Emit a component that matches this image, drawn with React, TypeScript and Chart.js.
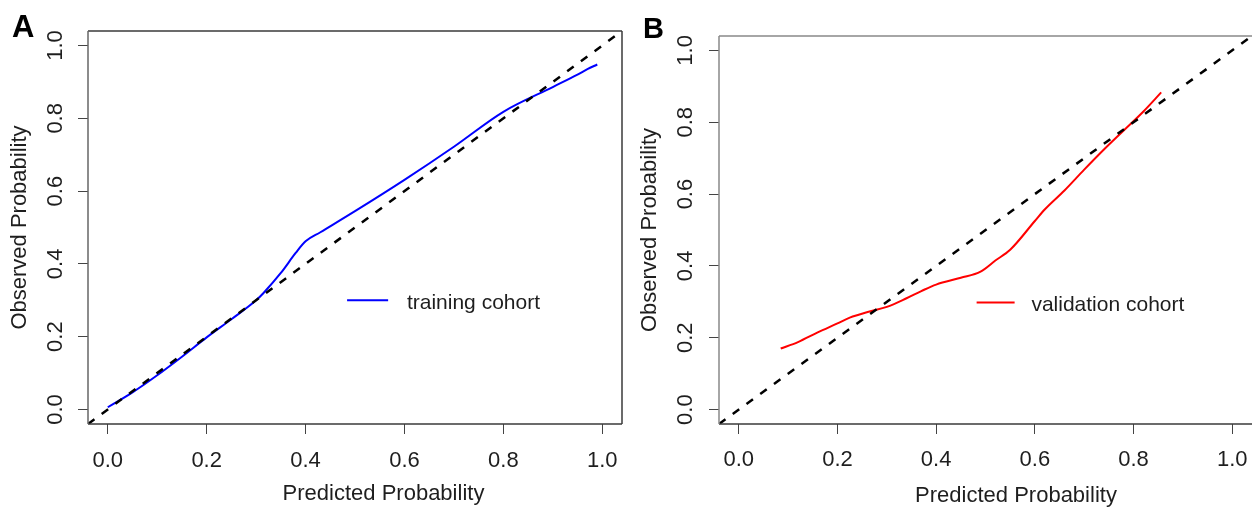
import React, { useEffect, useRef } from 'react';
import { Chart, registerables } from 'chart.js';

Chart.register(...registerables);

// ---------- data ----------
const tickValues = [0, 0.2, 0.4, 0.6, 0.8, 1.0];
const axisMin = -0.04;
const axisMax = 1.04;
const idealLine = [-0.04, 1.04];

const trainingPredicted = [0.0, 0.05, 0.1, 0.15, 0.2, 0.25, 0.3, 0.315, 0.35, 0.38, 0.4, 0.43, 0.5, 0.6, 0.7, 0.8, 0.9, 0.95, 0.97, 0.99];
const trainingObserved = [0.006, 0.047, 0.094, 0.145, 0.198, 0.248, 0.3, 0.32, 0.375, 0.43, 0.462, 0.487, 0.545, 0.631, 0.722, 0.818, 0.886, 0.92, 0.935, 0.948];

const validationPredicted = [0.085, 0.12, 0.16, 0.2, 0.225, 0.265, 0.3, 0.34, 0.37, 0.4, 0.45, 0.49, 0.52, 0.55, 0.6, 0.62, 0.66, 0.7, 0.74, 0.78, 0.82, 0.856];
const validationObserved = [0.17, 0.188, 0.215, 0.24, 0.256, 0.273, 0.286, 0.31, 0.33, 0.348, 0.367, 0.384, 0.415, 0.445, 0.525, 0.557, 0.61, 0.668, 0.724, 0.777, 0.83, 0.883];

const FONT = '"Liberation Sans", Arial, Helvetica, sans-serif';
const TEXT = '#1e1e1e';

type PanelCfg = {
  left: number;
  canvasWidth: number;
  padTop: number;
  padRight: number;
  yAxisWidth: number;
  titleShift: number;
  xTickPad: number;
  yTickPad: number;
  xTitlePad: number;
  pred: number[];
  obs: number[];
  color: string;
  label: string;
  frame: { top: string; left: string; bottom: string; right: string | null };
  legend: { x1: number; x2: number; y: number; tx: number; ty: number };
};

const panelA: PanelCfg = {
  left: 0,
  canvasWidth: 630,
  padTop: 31,
  padRight: 8,
  yAxisWidth: 88,
  titleShift: 28.5,
  xTickPad: 14,
  yTickPad: 7,
  xTitlePad: 1,
  pred: trainingPredicted,
  obs: trainingObserved,
  color: '#0000ff',
  label: 'training cohort',
  frame: { top: '#3a3a3a', left: '#666', bottom: '#3a3a3a', right: '#3a3a3a' },
  legend: { x1: 0.484, x2: 0.567, y: 0.3, tx: 0.605, ty: 0.292 },
};

const panelB: PanelCfg = {
  left: 630,
  canvasWidth: 622,
  padTop: 36,
  padRight: -1,
  yAxisWidth: 89,
  titleShift: 30.5,
  xTickPad: 13,
  yTickPad: 8,
  xTitlePad: -1,
  pred: validationPredicted,
  obs: validationObserved,
  color: '#ff0000',
  label: 'validation cohort',
  frame: { top: '#888', left: '#888', bottom: '#3a3a3a', right: null },
  legend: { x1: 0.482, x2: 0.559, y: 0.298, tx: 0.593, ty: 0.29 },
};

function buildConfig(p: PanelCfg): any {
  const curve = p.pred.map((x, i) => ({ x, y: p.obs[i] }));
  const diag = idealLine.map((v) => ({ x: v, y: v }));

  const framePlugin = {
    id: 'frameBox',
    afterDatasetsDraw(chart: any) {
      const { left, top, right, bottom } = chart.chartArea;
      const ctx = chart.ctx;
      ctx.save();
      ctx.lineWidth = 1.5;
      const side = (c: string | null, x1: number, y1: number, x2: number, y2: number) => {
        if (!c) return;
        ctx.strokeStyle = c;
        ctx.beginPath();
        ctx.moveTo(x1, y1);
        ctx.lineTo(x2, y2);
        ctx.stroke();
      };
      side(p.frame.top, left, top, right, top);
      side(p.frame.bottom, left, bottom, right, bottom);
      side(p.frame.left, left, top, left, bottom);
      side(p.frame.right, right, top, right, bottom);
      ctx.restore();
    },
  };

  const legendPlugin = {
    id: 'insideLegend',
    afterDatasetsDraw(chart: any) {
      const xs = chart.scales.x;
      const ys = chart.scales.y;
      const ctx = chart.ctx;
      ctx.save();
      ctx.strokeStyle = p.color;
      ctx.lineWidth = 2;
      ctx.beginPath();
      ctx.moveTo(xs.getPixelForValue(p.legend.x1), ys.getPixelForValue(p.legend.y));
      ctx.lineTo(xs.getPixelForValue(p.legend.x2), ys.getPixelForValue(p.legend.y));
      ctx.stroke();
      ctx.fillStyle = TEXT;
      ctx.font = `21px ${FONT}`;
      ctx.textAlign = 'left';
      ctx.textBaseline = 'middle';
      ctx.fillText(p.label, xs.getPixelForValue(p.legend.tx), ys.getPixelForValue(p.legend.ty));
      ctx.restore();
    },
  };

  // the x-axis title of the original sits a little right of the plot centre
  const shiftPlugin = {
    id: 'shiftXTitle',
    beforeDraw(chart: any) {
      const s = chart.scales.x;
      s.left += p.titleShift;
      s.right += p.titleShift;
    },
    beforeDatasetsDraw(chart: any) {
      const s = chart.scales.x;
      s.left -= p.titleShift;
      s.right -= p.titleShift;
    },
  };

  const tickFont = { family: FONT, size: 22 };
  const setTicks = (s: any) => {
    s.ticks = tickValues.map((v) => ({ value: v }));
  };
  const fmt = (v: any) => Number(v).toFixed(1);
  const grid = { drawOnChartArea: false, drawTicks: true, tickLength: 10, color: '#444', lineWidth: 1 };

  return {
    type: 'line',
    data: {
      datasets: [
        {
          label: 'ideal',
          data: diag,
          borderColor: '#000',
          borderWidth: 2.5,
          borderDash: [8, 9],
          pointRadius: 0,
          fill: false,
          tension: 0,
        },
        {
          label: p.label,
          data: curve,
          borderColor: p.color,
          borderWidth: 2,
          pointRadius: 0,
          fill: false,
          cubicInterpolationMode: 'monotone',
        },
      ],
    },
    options: {
      responsive: false,
      animation: false,
      devicePixelRatio: 1,
      events: [],
      layout: { padding: { left: 0, top: p.padTop, right: p.padRight, bottom: 0 } },
      plugins: { legend: { display: false }, tooltip: { enabled: false }, title: { display: false } },
      scales: {
        x: {
          type: 'linear',
          min: axisMin,
          max: axisMax,
          afterBuildTicks: setTicks,
          afterFit: (s: any) => {
            s.height = 84;
            s.paddingLeft = 0;
            s.paddingRight = 0;
          },
          grid,
          border: { display: false },
          ticks: {
            padding: p.xTickPad,
            font: tickFont,
            color: TEXT,
            callback: fmt,
            minRotation: 0,
            maxRotation: 0,
            autoSkip: false,
          },
          title: {
            display: true,
            text: 'Predicted Probability',
            font: { family: FONT, size: 22 },
            color: TEXT,
            padding: { top: 0, bottom: p.xTitlePad },
          },
        },
        y: {
          type: 'linear',
          min: axisMin,
          max: axisMax,
          afterBuildTicks: setTicks,
          afterFit: (s: any) => {
            s.width = p.yAxisWidth;
            s.paddingTop = 0;
            s.paddingBottom = 0;
          },
          grid,
          border: { display: false },
          ticks: {
            padding: p.yTickPad,
            crossAlign: 'center',
            minRotation: 90,
            maxRotation: 90,
            font: tickFont,
            color: TEXT,
            callback: fmt,
            autoSkip: false,
          },
          title: {
            display: true,
            text: 'Observed Probability',
            font: { family: FONT, size: 22 },
            color: TEXT,
            padding: { top: 7, bottom: 0 },
          },
        },
      },
    },
    plugins: [shiftPlugin, framePlugin, legendPlugin],
  };
}

function Panel({ cfg }: { cfg: PanelCfg }) {
  const ref = useRef<HTMLCanvasElement>(null);
  useEffect(() => {
    const chart = new Chart(ref.current as HTMLCanvasElement, buildConfig(cfg));
    return () => chart.destroy();
  }, [cfg]);
  return (
    <canvas
      ref={ref}
      width={cfg.canvasWidth}
      height={508}
      style={{ position: 'absolute', left: cfg.left, top: 0, width: cfg.canvasWidth, height: 508 }}
    />
  );
}

export default function App() {
  return (
    <div
      style={{
        position: 'fixed',
        left: 0,
        top: 0,
        width: 1252,
        height: 508,
        overflow: 'hidden',
        background: '#fff',
      }}
    >
      <Panel cfg={panelA} />
      <Panel cfg={panelB} />
      <div
        style={{
          position: 'absolute',
          left: 12,
          top: 11,
          fontFamily: FONT,
          fontWeight: 'bold',
          fontSize: 31,
          lineHeight: 1,
          color: '#000',
        }}
      >
        A
      </div>
      <div
        style={{
          position: 'absolute',
          left: 643,
          top: 14,
          fontFamily: FONT,
          fontWeight: 'bold',
          fontSize: 29,
          lineHeight: 1,
          color: '#000',
        }}
      >
        B
      </div>
    </div>
  );
}
